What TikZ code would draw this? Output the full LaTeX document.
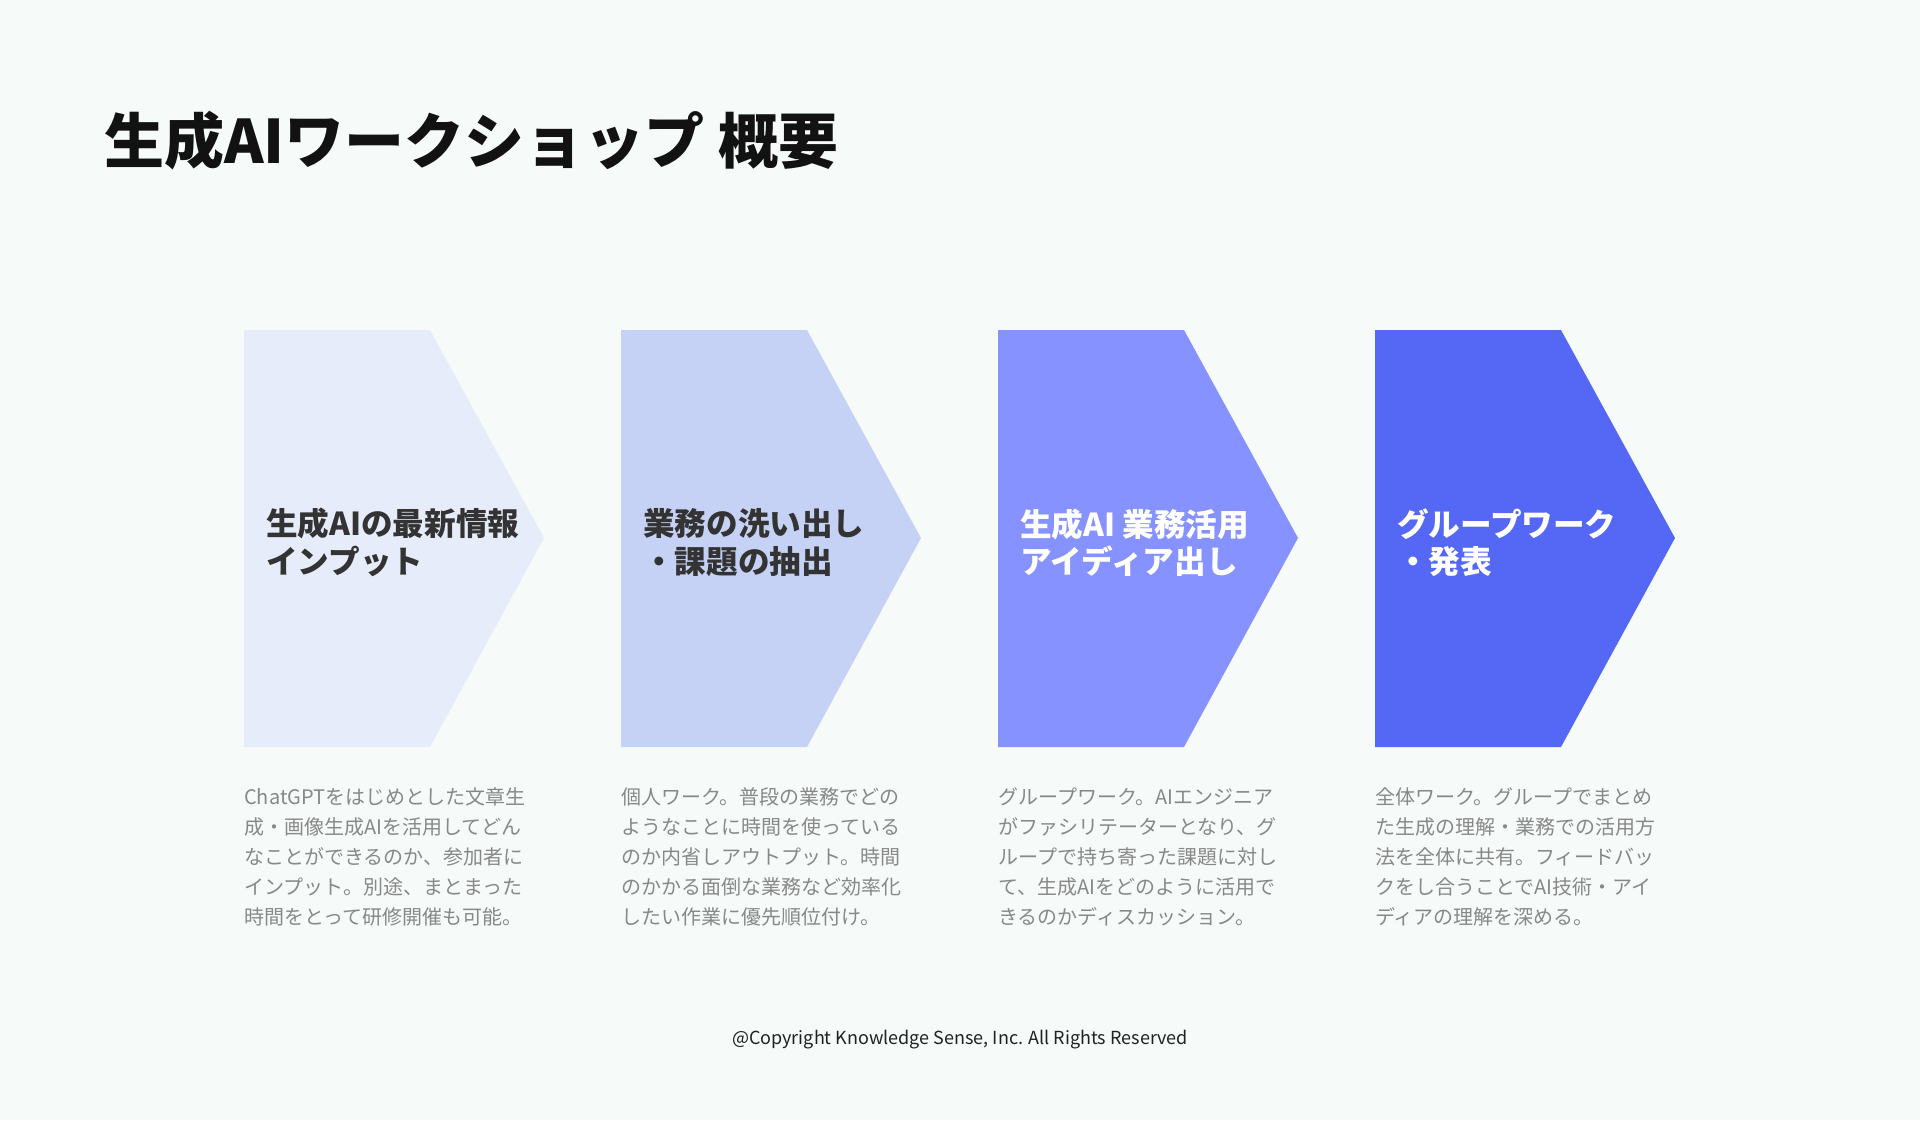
\documentclass[tikz,border=0pt]{standalone}
\usepackage{fontspec}
\setmainfont{Noto Sans CJK JP}
\definecolor{fond}{HTML}{F6FBFA}
\definecolor{etapeA}{HTML}{E6ECF9}
\definecolor{etapeB}{HTML}{C6D1F6}
\definecolor{etapeC}{HTML}{8592FF}
\definecolor{etapeD}{HTML}{5568F5}
\definecolor{encre}{HTML}{333333}
\definecolor{gris}{HTML}{888888}

\begin{document}
\begin{tikzpicture}[x=1pt,y=-1pt]
\tikzset{titre/.style={anchor=west, inner sep=0, text=black!93, font=\fontsize{60}{70}\selectfont\bfseries},
etiquette/.style={anchor=west, align=left, inner sep=0, font=\fontsize{31.6}{37.5}\selectfont\bfseries},
legende/.style={anchor=north west, align=left, inner sep=0, text=gris, font=\fontsize{20}{30}\selectfont}}
\fill[fond] (0,0) rectangle (1920,1120);
\node[titre] (T) at (104,141) {生成AIワークショップ 概要};
% les quatre etapes
\fill[etapeA] (244,330) -- (430,330) -- (544,538) -- (430,747) -- (244,747) -- cycle;
\fill[etapeB] (621,330) -- (807,330) -- (921,538) -- (807,747) -- (621,747) -- cycle;
\fill[etapeC] (998,330) -- (1184,330) -- (1298,538) -- (1184,747) -- (998,747) -- cycle;
\fill[etapeD] (1375,330) -- (1561,330) -- (1675,538) -- (1561,747) -- (1375,747) -- cycle;
\node[etiquette, text=encre] (E1) at (266,542.5) {生成AIの最新情報\\インプット};
\node[etiquette, text=encre] (E2) at (643,542.5) {業務の洗い出し\\・課題の抽出};
\node[etiquette, text=white] (E3) at (1020,542.5) {生成AI 業務活用\\アイディア出し};
\node[etiquette, text=white] (E4) at (1397,542.5) {グループワーク\\・発表};
% descriptions
\node[legende] (D1) at (244,787.5) {ChatGPTをはじめとした文章生\\成・画像生成AIを活用してどん\\なことができるのか、参加者に\\インプット。別途、まとまった\\時間をとって研修開催も可能。};
\node[legende] (D2) at (621,787.5) {個人ワーク。普段の業務でどの\\ようなことに時間を使っている\\のか内省しアウトプット。時間\\のかかる面倒な業務など効率化\\したい作業に優先順位付け。};
\node[legende] (D3) at (998,787.5) {グループワーク。AIエンジニア\\がファシリテーターとなり、グ\\ループで持ち寄った課題に対し\\て、生成AIをどのように活用で\\きるのかディスカッション。};
\node[legende] (D4) at (1375,787.5) {全体ワーク。グループでまとめ\\た生成の理解・業務での活用方\\法を全体に共有。フィードバッ\\クをし合うことでAI技術・アイ\\ディアの理解を深める。};
\node[text=black!87, inner sep=0, font=\fontsize{18}{22}\selectfont] (C) at (960,1040) {@Copyright Knowledge Sense, Inc. All Rights Reserved};
\end{tikzpicture}
\end{document}
